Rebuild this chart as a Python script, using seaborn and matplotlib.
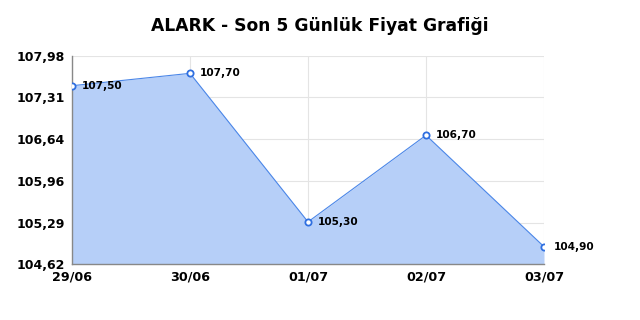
import matplotlib
matplotlib.use("Agg")
import matplotlib.pyplot as plt
import seaborn as sns
import pandas as pd

dates = ["29/06", "30/06", "01/07", "02/07", "03/07"]
prices = [107.50, 107.70, 105.30, 106.70, 104.90]
value_labels = ["107,50", "107,70", "105,30", "106,70", "104,90"]
yticks = [104.62, 105.29, 105.96, 106.64, 107.31, 107.98]
ytick_labels = ["104,62", "105,29", "105,96", "106,64", "107,31", "107,98"]
title = "ALARK - Son 5 Günlük Fiyat Grafiği"

sns.set_style("white")
plt.rcParams['font.family'] = ['DejaVu Sans']
plt.rcParams['text.color'] = 'black'
plt.rcParams['xtick.color'] = 'black'
plt.rcParams['ytick.color'] = 'black'

df = pd.DataFrame({"x": range(len(dates)), "price": prices})

fig = plt.figure(figsize=(6.4, 3.2), dpi=100)
ax = fig.add_axes([72/640, 56/320, (544-72)/640, (264-56)/320])

ax.fill_between(df["x"], yticks[0], df["price"], color="#b6cff8", linewidth=0, zorder=1)
sns.lineplot(data=df, x="x", y="price", ax=ax, color="#4a86e8", linewidth=0.8,
             marker="o", markersize=4.5, markerfacecolor="white",
             markeredgecolor="#2f6fe0", markeredgewidth=1.3, zorder=3)

for xi, yi, lab in zip(df["x"], df["price"], value_labels):
    ax.annotate(lab, (xi, yi), xytext=(7, 0), textcoords="offset points",
                fontsize=7.6, fontweight="bold", va="center", ha="left", color="black", zorder=4)

ax.set_xlim(0, len(dates) - 1)
ax.set_ylim(yticks[0], yticks[-1])
ax.set_xticks(range(len(dates)))
ax.set_xticklabels(dates, fontsize=9.2, fontweight="bold")
ax.set_yticks(yticks)
ax.set_yticklabels(ytick_labels, fontsize=9, fontweight="bold")
ax.tick_params(axis="y", length=0, pad=5)
ax.tick_params(axis="x", length=0, pad=5)
ax.set_xlabel("")
ax.set_ylabel("")
ax.grid(True, color="#e4e4e4", linewidth=0.8, zorder=0)
ax.set_axisbelow(True)
for s in ["top", "right"]:
    ax.spines[s].set_visible(False)
for s in ["left", "bottom"]:
    ax.spines[s].set_color("#888888")
    ax.spines[s].set_linewidth(1.0)

fig.text(0.5, 1 - 26/320, title, ha="center", va="center", fontsize=12.3, fontweight="bold", color="black")

fig.savefig("out.png", dpi=100)
